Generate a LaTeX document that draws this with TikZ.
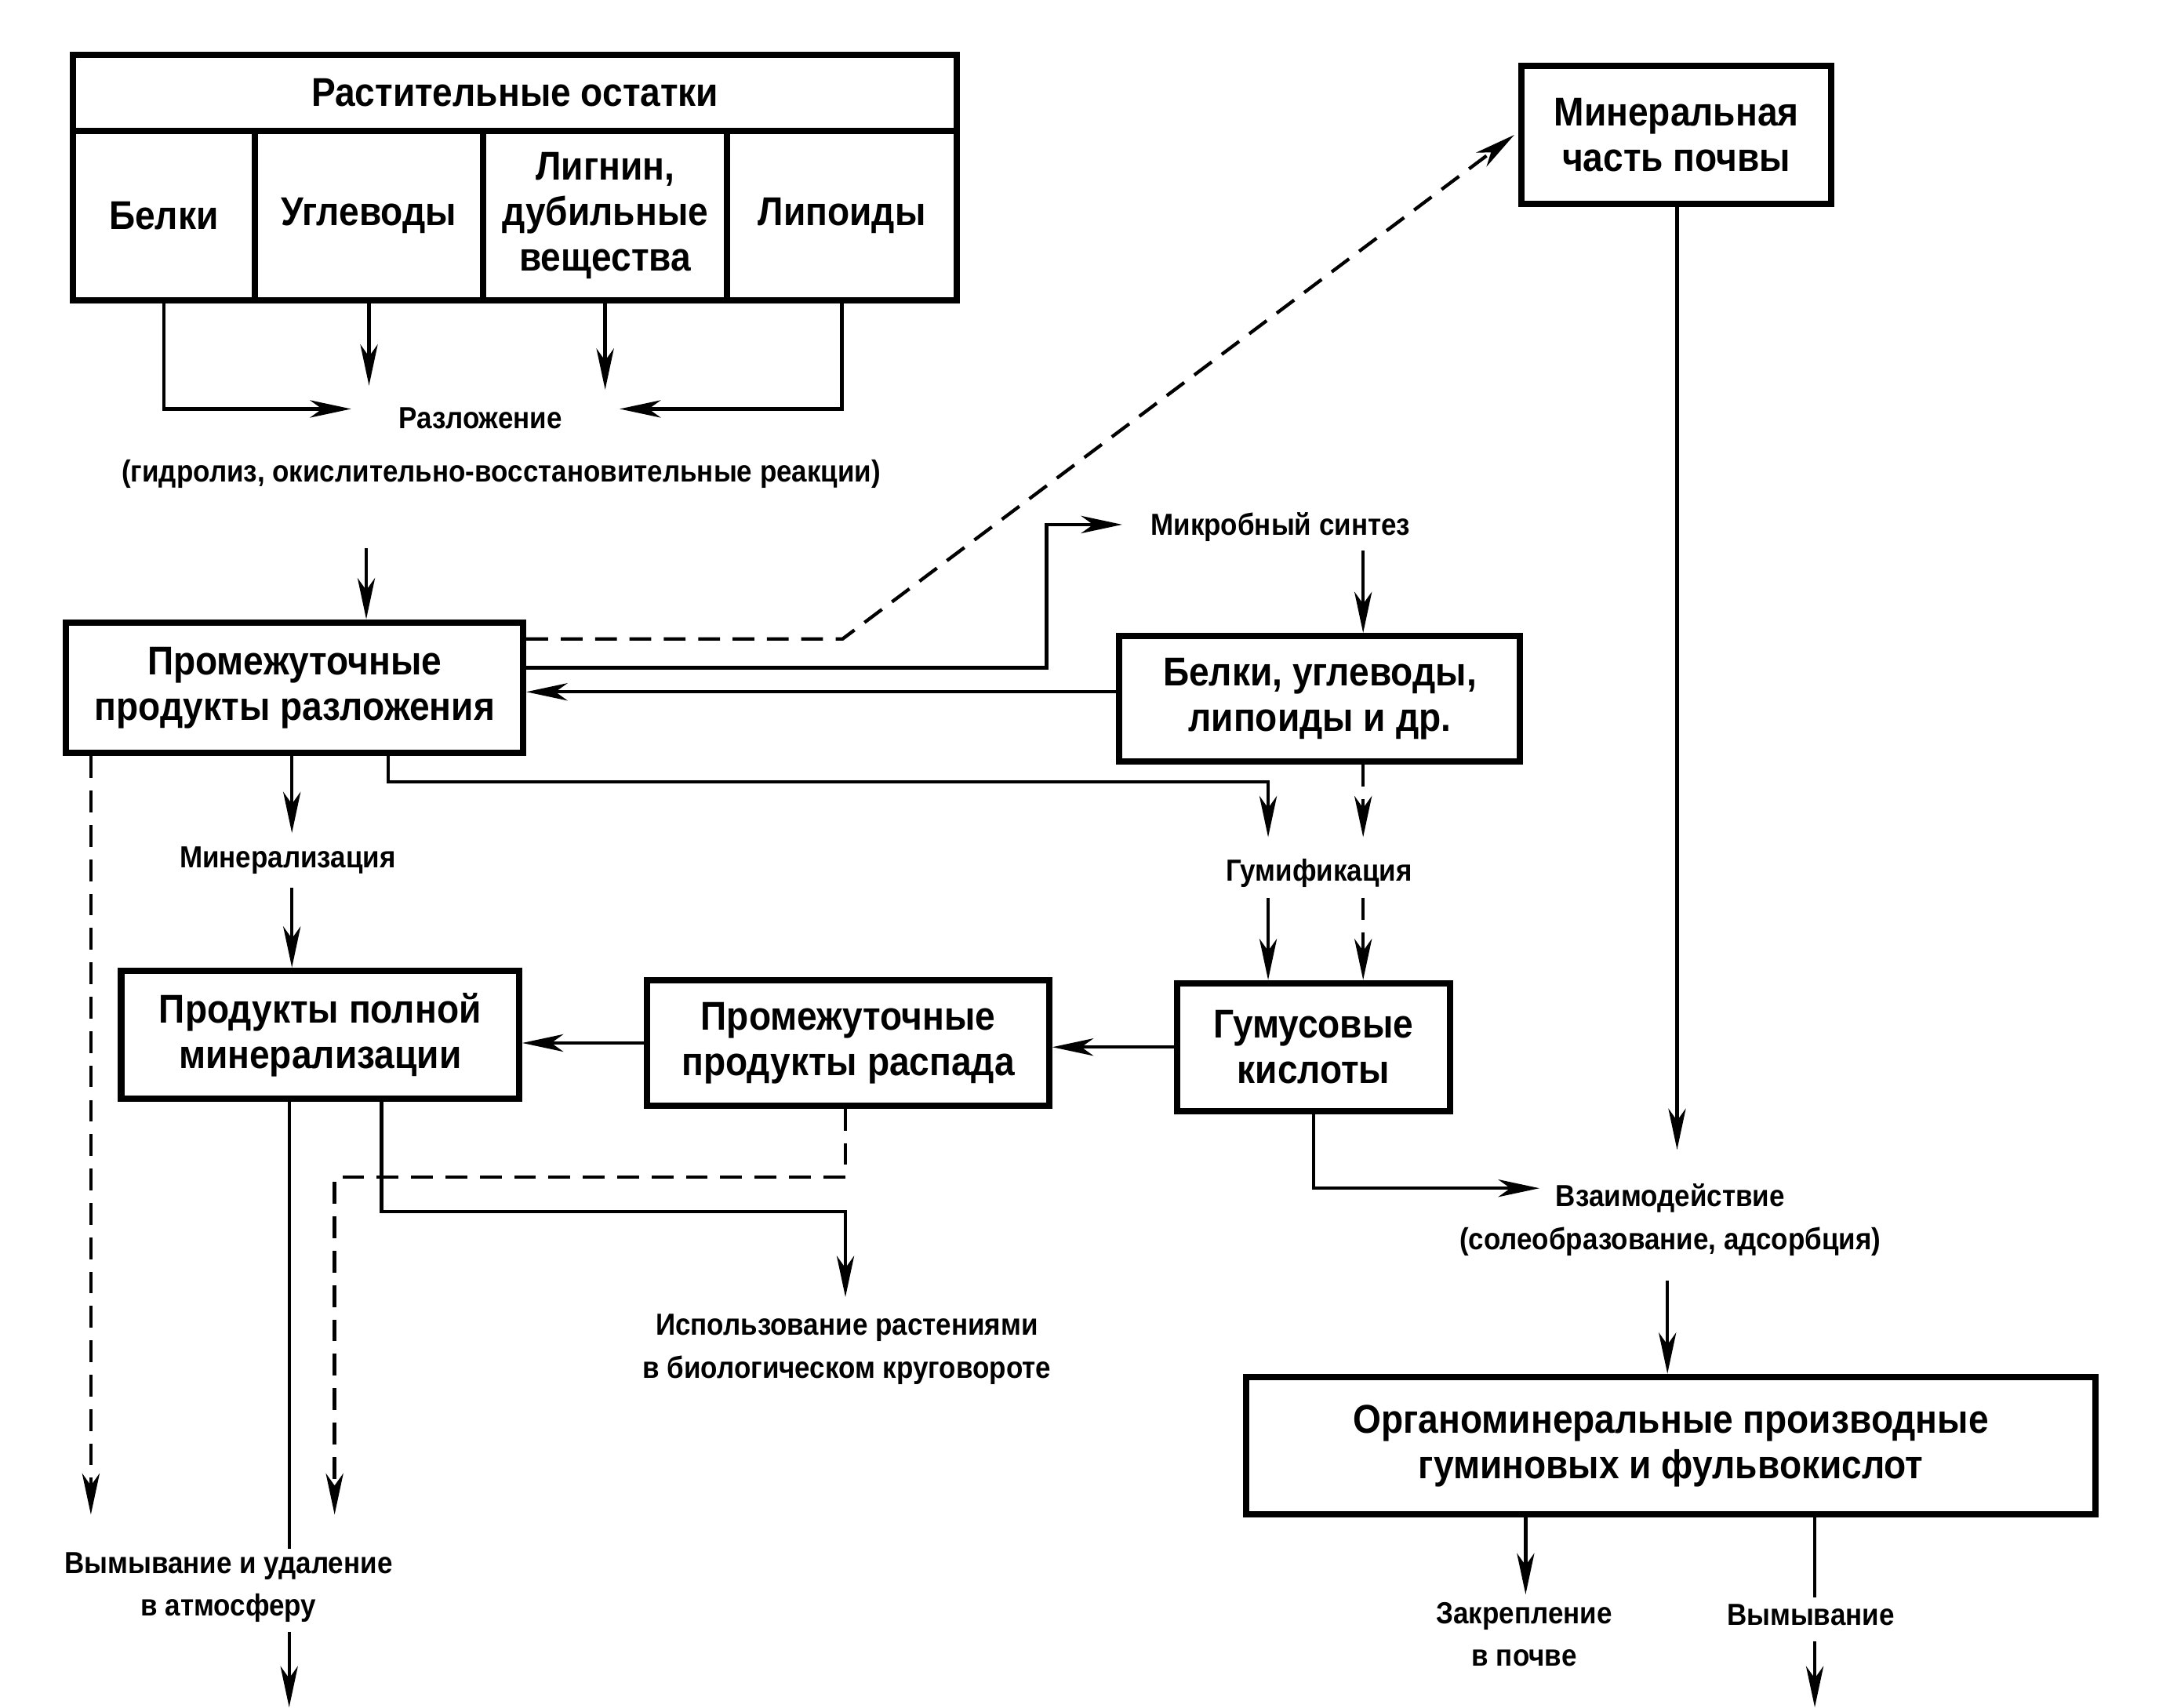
\documentclass[tikz,border=0pt]{standalone}
\usepackage{fontspec}
\setmainfont{Liberation Sans}[FakeStretch=0.9]
\usetikzlibrary{arrows.meta,calc}
\newcommand\BoxFont{\fontsize{8.3}{9.4}\selectfont\bfseries}
\newcommand\LblFont{\fontsize{6.3}{8.8}\selectfont\bfseries}
\begin{document}
\begin{tikzpicture}[x=0.1mm,y=-0.1mm,
  box/.style={draw,line width=1.3pt,align=center,inner sep=0pt,font=\BoxFont},
  lbl/.style={align=center,inner sep=1pt,font=\LblFont},
  con/.style={line width=0.7pt},
  arr/.style={con,-{Stealth[length=8.5pt,width=3.6pt,inset=2.5pt]}},
  dsh/.style={dash pattern=on 4.5pt off 2.6pt}]
\useasboundingbox (0,0) rectangle (1568,1240);

% top table
\node[box,minimum width=64.2mm,minimum height=5.5mm] (hdr) at (374,67.5) {Растительные остатки};
\node[box,minimum width=13.2mm,minimum height=12.3mm] (c1) at (119,156.5) {Белки};
\node[box,minimum width=16.6mm,minimum height=12.3mm] (c2) at (268,156.5) {Углеводы};
\node[box,minimum width=17.7mm,minimum height=12.3mm] (c3) at (439.5,156.5) {Лигнин,\\дубильные\\вещества};
\node[box,minimum width=16.7mm,minimum height=12.3mm] (c4) at (611.5,156.5) {Липоиды};

\node[lbl] (razl) at (349,304) {Разложение};
\node[lbl] (gidr) at (364,344) {(гидролиз, окислительно-восстановительные реакции)};

% boxes
\node[box,minimum width=33.2mm,minimum height=9.5mm] (ppr) at (214,499.5) {Промежуточные\\продукты разложения};
\node[box,minimum width=22.5mm,minimum height=10mm] (min) at (1217.5,98) {Минеральная\\часть почвы};
\node[lbl] (mikro) at (930,383) {Микробный синтез};
\node[box,minimum width=29.1mm,minimum height=9.1mm] (bul) at (958.5,507.5) {Белки, углеводы,\\липоиды и др.};
\node[lbl] (mineraliz) at (209,625) {Минерализация};
\node[lbl] (gumif) at (958,634) {Гумификация};
\node[box,minimum width=28.9mm,minimum height=9.3mm] (ppm) at (232.5,751.5) {Продукты полной\\минерализации};
\node[box,minimum width=29.2mm,minimum height=9.1mm] (ppra) at (616,757.5) {Промежуточные\\продукты распада};
\node[box,minimum width=19.8mm,minimum height=9.3mm] (gk) at (954,760.5) {Гумусовые\\кислоты};
\node[lbl] (vz) at (1213,886) {Взаимодействие\\(солеобразование, адсорбция)};
\node[box,minimum width=61.7mm,minimum height=10mm] (org) at (1213.5,1050) {Органоминеральные производные\\гуминовых и фульвокислот};
\node[lbl] (zak) at (1107,1187) {Закрепление\\в почве};
\node[lbl] (vym) at (1315,1173) {Вымывание};
\node[lbl] (vymud) at (166,1153) {Вымывание и удаление\\в атмосферу};
\node[lbl] (isp) at (615,980) {Использование растениями\\в биологическом круговороте};

% coordinates
\coordinate (r1) at (255,297);
\coordinate (r4) at (450,297);
\coordinate (a2) at (268,280);
\coordinate (a3) at (439.5,283);
\coordinate (p0) at (266,398);
\coordinate (dk) at (612,464);
\coordinate (ms) at (760,485);
\coordinate (mk) at (815,381);
\coordinate (m0) at (990,400);
\coordinate (g1) at (921,568);
\coordinate (g1a) at (921,608);
\coordinate (g1b) at (921,652);
\coordinate (g2a) at (990,608);
\coordinate (g2b) at (990,652);
\coordinate (mn1) at (212,605);
\coordinate (mn2) at (212,645);
\coordinate (vl) at (66,1100);
\coordinate (v1) at (210,1125);
\coordinate (v2) at (210,1185);
\coordinate (v3) at (210,1240);
\coordinate (u1) at (614,880);
\coordinate (u2) at (614,942);
\coordinate (d1) at (243,855);
\coordinate (d2) at (243,1100);
\coordinate (vzw) at (1118,863);
\coordinate (ms2) at (1218,835);
\coordinate (o0) at (1211,930);
\coordinate (z1) at (1108,1158);
\coordinate (w1) at (1318,1160);
\coordinate (w2) at (1318,1192);
\coordinate (w3) at (1318,1240);

% connectors
\draw[arr] (c1.south) |- (r1);
\draw[arr] (c2.south) -- (a2);
\draw[arr] (c3.south) -- (a3);
\draw[arr] (c4.south) |- (r4);
\draw[arr] (p0) -- (p0 |- ppr.north);
\draw[arr,dsh] (ppr.east |- dk) -- (dk) -- ($(min.west)+(-3,0)$);
\draw[arr] (ppr.east |- ms) -- (ms) |- (mk);
\draw[arr] (m0) -- (m0 |- bul.north);
\draw[arr] ($(bul.west)+(0,-5)$) -- ($(bul.west -| ppr.east)+(0,-5)$);
\draw[arr] ($(ppr.south)+(68,0)$) |- (g1) -- (g1a);
\draw[arr] (g1b) -- (g1b |- gk.north);
\draw[arr,dsh] (g2a |- bul.south) -- (g2a);
\draw[arr,dsh] (g2b) -- (g2b |- gk.north);
\draw[arr] (mn1 |- ppr.south) -- (mn1);
\draw[arr] (mn2) -- (mn2 |- ppm.north);
\draw[arr] (gk.west) -- (gk.west -| ppra.east);
\draw[arr] (ppra.west) -- (ppra.west -| ppm.east);
\draw[arr,dsh] (vl |- ppr.south) -- (vl);
\draw[con] (v1 |- ppm.south) -- (v1);
\draw[arr] (v2) -- (v3);
\draw[arr] ($(ppm.south)+(44.5,0)$) |- (u1) -- (u2);
\draw[arr,dsh] (u1 |- ppra.south) |- (d1) -- (d2);
\draw[arr] (gk.south) |- (vzw);
\draw[arr] (ms2 |- min.south) -- (ms2);
\draw[arr] (o0) -- (o0 |- org.north);
\draw[arr] (z1 |- org.south) -- (z1);
\draw[con] (w1 |- org.south) -- (w1);
\draw[arr] (w2) -- (w3);
\end{tikzpicture}
\end{document}
